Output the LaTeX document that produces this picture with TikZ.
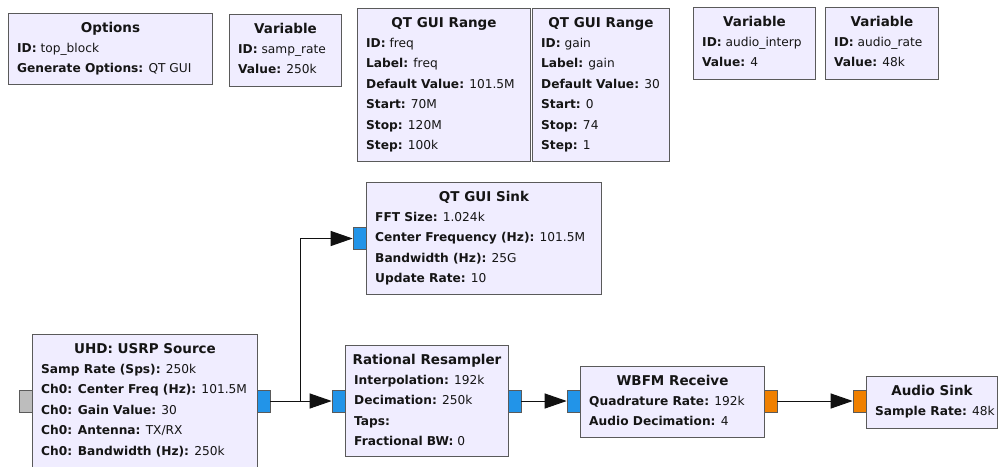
\documentclass[tikz,border=0pt]{standalone}
\usepackage{fontspec}
\setmainfont{DejaVu Sans}
\usetikzlibrary{arrows.meta,calc}

\definecolor{blkfill}{HTML}{F0EDFF}
\definecolor{blkline}{HTML}{5A5A5A}
\definecolor{portblue}{HTML}{2294E8}
\definecolor{portorange}{HTML}{F08000}
\definecolor{portgrey}{HTML}{BDBDBD}
\definecolor{wirecol}{HTML}{111111}
\definecolor{txt}{HTML}{151515}

\tikzset{
  blk/.style={draw=blkline, fill=blkfill, line width=1pt, inner sep=0pt},
  ttl/.style={anchor=base, inner sep=0pt, text=txt, font=\fontsize{13.5}{15}\selectfont\bfseries},
  prm/.style={anchor=base west, inner sep=0pt, text=txt, font=\fontsize{12.2}{14}\selectfont},
  port/.style={draw=blkline, fill=#1, line width=0.8pt, inner sep=0pt,
    minimum width=13pt, minimum height=22pt},
  wire/.style={draw=wirecol, line width=1pt},
  flow/.style={wire, -{Triangle[length=22pt,width=15pt]}},
}

% block: name, x1, y1, x2, y2, title
\newcommand\grcblk[6]{%
  \node[blk, anchor=north west, minimum width={#4-#2}, minimum height={#5-#3}] (#1) at (#2,-#3) {};
  \node[ttl] (#1-t) at ($(#1.north)+(0,-19)$) {#6};
}
% parameter lines of a block
\newcommand\grclines[2]{%
  \foreach \t [count=\i] in {#2} {
    \node[prm] (#1-\i) at ($(#1.north west)+(9,-18.5-20.5*\i)$) {\t};
  }
}

\begin{document}
\begin{tikzpicture}[x=1pt,y=1pt]
\useasboundingbox[fill=white] (0,0) rectangle (1000,-466);

% variable and option blocks
\grcblk{opt}{8}{13}{212}{84}{Options}
\grclines{opt}{{\textbf{ID:} top\_block},{\textbf{Generate Options:} QT GUI}}

\grcblk{vsr}{229}{14}{341}{86}{Variable}
\grclines{vsr}{{\textbf{ID:} samp\_rate},{\textbf{Value:} 250k}}

\grcblk{rfreq}{357}{8}{530}{161}{QT GUI Range}
\grclines{rfreq}{{\textbf{ID:} freq},{\textbf{Label:} freq},{\textbf{Default Value:} 101.5M},{\textbf{Start:} 70M},{\textbf{Stop:} 120M},{\textbf{Step:} 100k}}

\grcblk{rgain}{532}{8}{669}{161}{QT GUI Range}
\grclines{rgain}{{\textbf{ID:} gain},{\textbf{Label:} gain},{\textbf{Default Value:} 30},{\textbf{Start:} 0},{\textbf{Stop:} 74},{\textbf{Step:} 1}}

\grcblk{vai}{693}{7}{815}{79}{Variable}
\grclines{vai}{{\textbf{ID:} audio\_interp},{\textbf{Value:} 4}}

\grcblk{var}{825}{7}{938}{79}{Variable}
\grclines{var}{{\textbf{ID:} audio\_rate},{\textbf{Value:} 48k}}

% signal processing blocks
\grcblk{gui}{366}{182}{601}{294}{QT GUI Sink}
\grclines{gui}{{\textbf{FFT Size:} 1.024k},{\textbf{Center Frequency (Hz):} 101.5M},{\textbf{Bandwidth (Hz):} 25G},{\textbf{Update Rate:} 10}}

\grcblk{usrp}{32}{334}{257}{480}{UHD: USRP Source}
\grclines{usrp}{{\textbf{Samp Rate (Sps):} 250k},{\textbf{Ch0: Center Freq (Hz):} 101.5M},{\textbf{Ch0: Gain Value:} 30},{\textbf{Ch0: Antenna:} TX/RX},{\textbf{Ch0: Bandwidth (Hz):} 250k}}

\grcblk{rr}{345}{345}{508}{456}{Rational Resampler}
\grclines{rr}{{\textbf{Interpolation:} 192k},{\textbf{Decimation:} 250k},{\textbf{Taps:}},{\textbf{Fractional BW:} 0}}

\grcblk{wbfm}{580}{366}{764}{437}{WBFM Receive}
\grclines{wbfm}{{\textbf{Quadrature Rate:} 192k},{\textbf{Audio Decimation:} 4}}

\grcblk{snk}{866}{376}{997}{428}{Audio Sink}
\grclines{snk}{{\textbf{Sample Rate:} 48k}}

% ports
\node[port=portgrey,   anchor=east] (usrp-msg) at (32.5,-401) {};
\node[port=portblue,   anchor=west] (usrp-out) at (256.5,-401) {};
\node[port=portblue,   anchor=east] (gui-in)   at (366.5,-238.5) {};
\node[port=portblue,   anchor=east] (rr-in)    at (345.5,-401) {};
\node[port=portblue,   anchor=west] (rr-out)   at (507.5,-401) {};
\node[port=portblue,   anchor=east] (wbfm-in)  at (580.5,-401) {};
\node[port=portorange, anchor=west] (wbfm-out) at (763.5,-401) {};
\node[port=portorange, anchor=east] (snk-in)   at (866.5,-401) {};

% connections
\coordinate (split) at (300,-401);
\draw[wire] (usrp-out.east) -- (split);
\draw[flow] (split) |- (gui-in.west);
\draw[flow] (split) -- (rr-in.west);
\draw[flow] (rr-out.east) -- (wbfm-in.west);
\draw[flow] (wbfm-out.east) -- (snk-in.west);
\end{tikzpicture}
\end{document}
